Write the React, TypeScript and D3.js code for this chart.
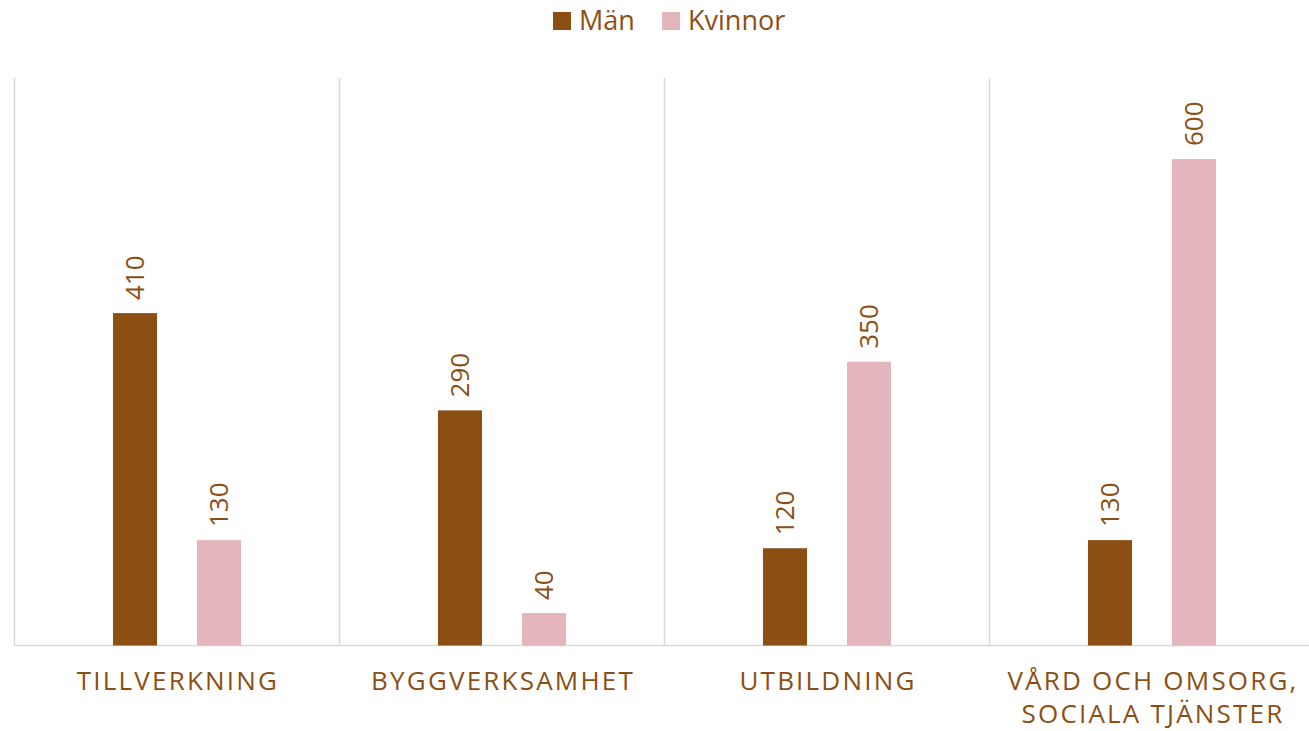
import React from "react";
import { scaleBand, scaleLinear } from "d3";

const categories = ["TILLVERKNING", "BYGGVERKSAMHET", "UTBILDNING", "VÅRD OCH OMSORG,\nSOCIALA TJÄNSTER"];
const series = ["Män", "Kvinnor"];
const manValues = [410, 290, 120, 130];
const kvinnorValues = [130, 40, 350, 600];
const colors = ["#8B4F14", "#E4B5BC"];

const W = 1309;
const H = 731;
const FONT = "'Open Sans', sans-serif";
const TEXT = "#8B4F14";
const GRID = "#D9D9D9";

export default function App() {
  const left = 14.5;
  const top = 78;
  const bottom = 645.5;

  const x = scaleBand<string>().domain(categories).range([left, left + 325 * categories.length]);
  const bw = x.bandwidth();
  const inner = scaleBand<string>()
    .domain(series)
    .range([bw * 0.303, bw * 0.697])
    .paddingInner(0.476);
  const y = scaleLinear().domain([0, 700]).range([bottom, top]);

  const values = [manValues, kvinnorValues];

  return (
    <svg
      width={W}
      height={H}
      style={{ position: "absolute", left: 0, top: 0, display: "block", background: "#fff" }}
      fontFamily={FONT}
    >
      {/* Legend */}
      {series.map((s, i) => {
        const lx = i === 0 ? 553 : 662;
        return (
          <g key={s}>
            <rect x={lx} y={12} width={18} height={18} fill={colors[i]} />
            <text x={lx + 26} y={30} fontSize={27} fill={TEXT}>
              {s}
            </text>
          </g>
        );
      })}

      {/* Vertical separators */}
      {categories.map((c) => (
        <line key={c} x1={x(c)!} x2={x(c)!} y1={top} y2={bottom} stroke={GRID} strokeWidth={1.5} />
      ))}
      <line x1={left} x2={W} y1={bottom} y2={bottom} stroke={GRID} strokeWidth={1.5} />

      {/* Bars and labels */}
      {categories.map((c, ci) => (
        <g key={c} transform={`translate(${x(c)},0)`}>
          {series.map((s, si) => {
            const v = values[si][ci];
            const bx = inner(s)!;
            const cx = bx + inner.bandwidth() / 2;
            return (
              <g key={s}>
                <rect x={bx} y={y(v)} width={inner.bandwidth()} height={bottom - y(v)} fill={colors[si]} />
                <text
                  transform={`translate(${cx},${y(v) - 13}) rotate(-90)`}
                  dy={9}
                  fontSize={26}
                  fill={TEXT}
                >
                  {v}
                </text>
              </g>
            );
          })}
          {c.split("\n").map((line, li) => (
            <text
              key={li}
              x={bw / 2 + 1}
              y={690 + li * 33}
              textAnchor="middle"
              fontSize={26}
              letterSpacing={2.2}
              fill={TEXT}
            >
              {line}
            </text>
          ))}
        </g>
      ))}
    </svg>
  );
}
